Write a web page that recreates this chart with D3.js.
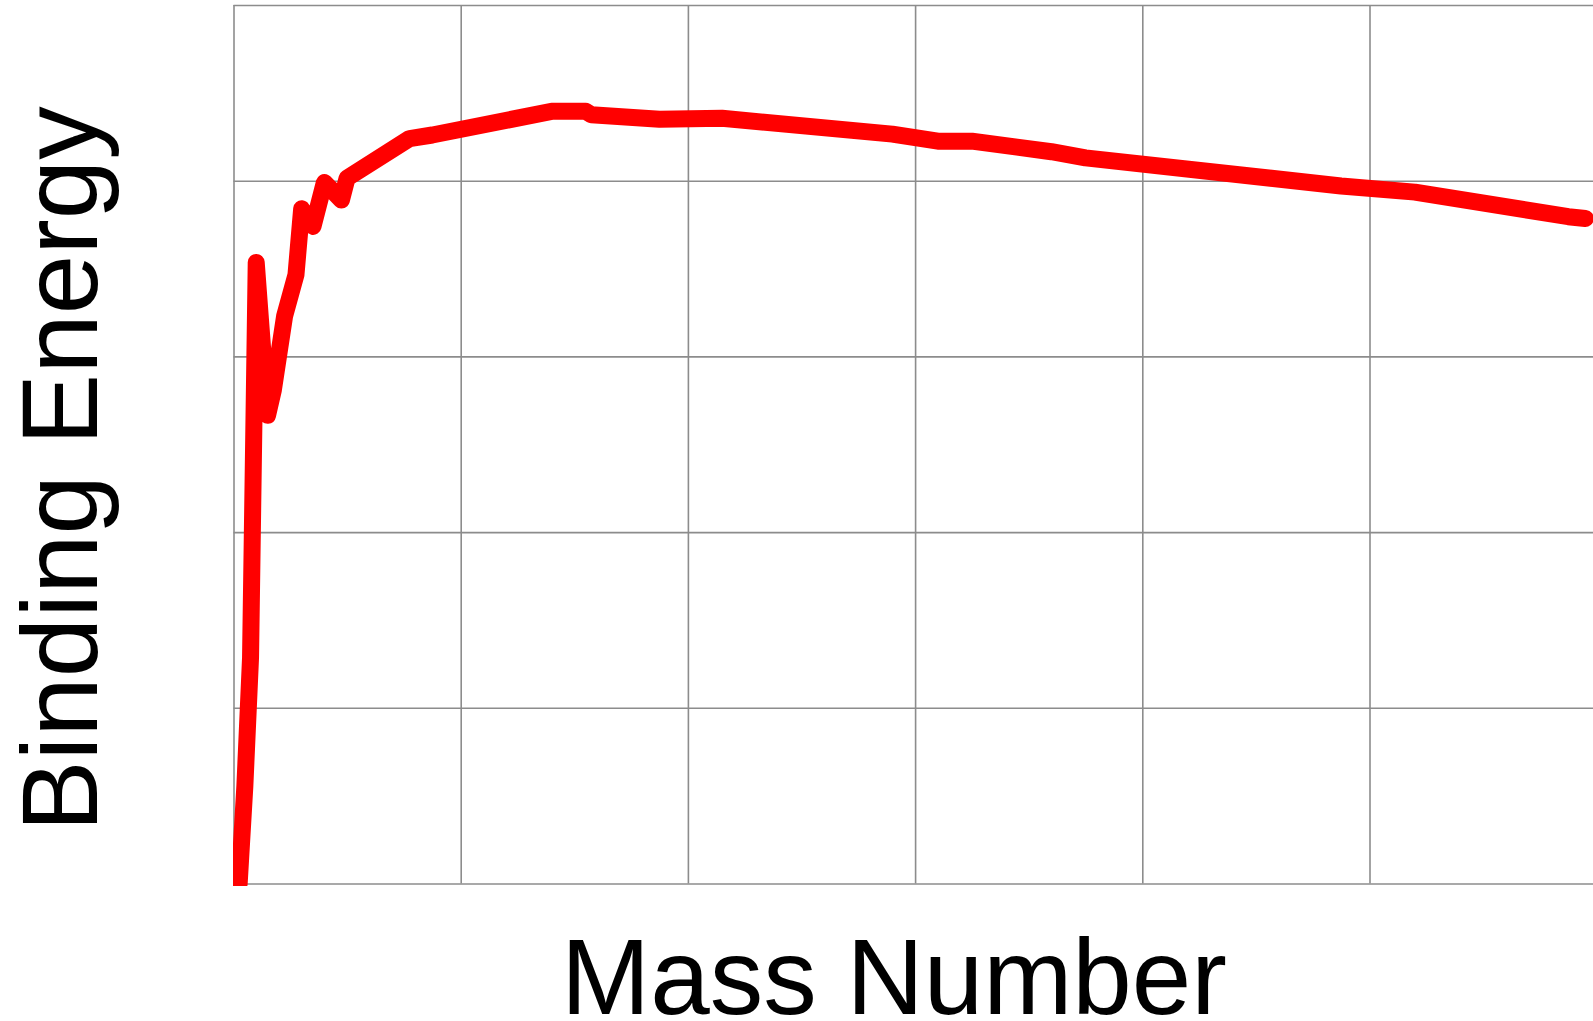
<!DOCTYPE html>
<html>
<head>
<meta charset="utf-8">
<script src="https://cdn.jsdelivr.net/npm/d3@7"></script>
<style>
html, body { margin: 0; padding: 0; background: #fff; overflow: hidden; }
svg { display: block; }
</style>
</head>
<body>
<script>
// Mass number (A) and binding energy per nucleon (MeV)
const massNumbers = [1, 2, 3, 4, 6, 7, 9, 11, 12, 14, 16, 19, 20, 31, 35, 56, 62, 63, 75, 86, 116, 124, 130, 144, 150, 195, 208, 235, 238];
const bindingEnergy = [0, 1.11, 2.57, 7.07, 5.33, 5.61, 6.46, 6.93, 7.68, 7.48, 7.98, 7.78, 8.03, 8.48, 8.52, 8.79, 8.79, 8.75, 8.70, 8.71, 8.53, 8.45, 8.45, 8.33, 8.26, 7.94, 7.87, 7.59, 7.57];
const xTicks = [0, 40, 80, 120, 160, 200, 240];
const yTicks = [0, 2, 4, 6, 8, 10];
const xLabel = "Mass Number";
const yLabel = "Binding Energy";

const W = 1593, H = 1021;
const plot = { left: 233.5, right: 1596.7, top: 5, bottom: 883.5 };

const svg = d3.select("body").append("svg").attr("width", W).attr("height", H);

const x = d3.scaleLinear().domain([0, 240]).range([plot.left, plot.right]);
const y = d3.scaleLinear().domain([0, 10]).range([plot.bottom, plot.top]);

const grid = svg.append("g");
grid.append("g")
  .attr("transform", `translate(0,${plot.bottom})`)
  .call(d3.axisBottom(x).tickValues(xTicks).tickSize(-(plot.bottom - plot.top)).tickFormat(""))
  .call(g => g.select(".domain").remove())
  .call(g => g.selectAll("line").attr("stroke", "#8c8c8c").attr("stroke-width", 1.6));
grid.append("g")
  .attr("transform", `translate(${plot.left},0)`)
  .call(d3.axisLeft(y).tickValues(yTicks).tickSize(-(plot.right - plot.left)).tickFormat(""))
  .call(g => g.select(".domain").remove())
  .call(g => g.selectAll("line").attr("stroke", "#8c8c8c").attr("stroke-width", 1.6));

svg.append("defs").append("clipPath").attr("id", "clip")
  .append("rect").attr("x", plot.left - 0.5).attr("y", 0).attr("width", W).attr("height", plot.bottom + 2.5);

const data = massNumbers.map((a, i) => ({ a, e: bindingEnergy[i] }));
const line = d3.line().x(d => x(d.a)).y(d => y(d.e));

svg.append("path")
  .datum(data)
  .attr("clip-path", "url(#clip)")
  .attr("d", line)
  .attr("fill", "none")
  .attr("stroke", "#ff0000")
  .attr("stroke-width", 17)
  .attr("stroke-linejoin", "round")
  .attr("stroke-linecap", "round");

svg.append("text")
  .attr("x", 894).attr("y", 1014)
  .attr("text-anchor", "middle")
  .attr("font-family", "'Liberation Sans', Arial, sans-serif")
  .attr("font-size", 107)
  .attr("fill", "#000")
  .text(xLabel);

svg.append("text")
  .attr("transform", "translate(97,469) rotate(-90)")
  .attr("text-anchor", "middle")
  .attr("font-family", "'Liberation Sans', Arial, sans-serif")
  .attr("font-size", 107)
  .attr("fill", "#000")
  .text(yLabel);
</script>
</body>
</html>
